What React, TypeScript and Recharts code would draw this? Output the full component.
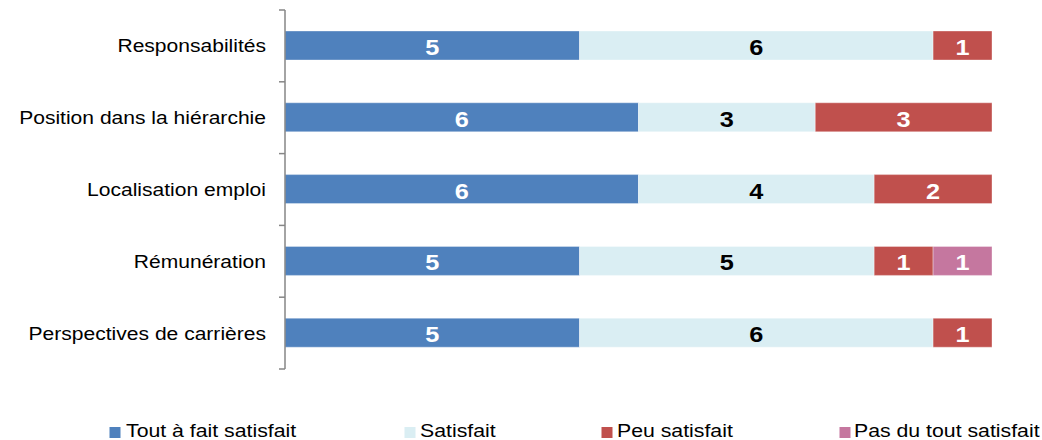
import React from 'react';
import { BarChart, Bar, XAxis, YAxis, Legend, LabelList } from 'recharts';

const categories = [
  'Responsabilités',
  'Position dans la hiérarchie',
  'Localisation emploi',
  'Rémunération',
  'Perspectives de carrières',
];
const toutAFait = [5, 6, 6, 5, 5];
const satisfait = [6, 3, 4, 5, 6];
const peu = [1, 3, 2, 1, 1];
const pasDuTout = [0, 0, 0, 1, 0];

const seriesNames = ['Tout à fait satisfait', 'Satisfait', 'Peu satisfait', 'Pas du tout satisfait'];
const seriesKeys = ['a', 'b', 'c', 'd'];
const seriesColors = ['#4F81BD', '#DAEEF3', '#C0504D', '#C5779F'];
const labelColors = ['#FFFFFF', '#000000', '#FFFFFF', '#FFFFFF'];

const data = categories.map((name, i) => ({
  name,
  a: toutAFait[i],
  b: satisfait[i],
  c: peu[i],
  d: pasDuTout[i],
}));

const FONT = '"Liberation Sans", Arial, sans-serif';
const AXIS_X = 285;
const STRETCH = 1.15;

const CategoryTick = (props: any) => {
  const { y, payload, index, visibleTicksCount } = props;
  const off = payload && typeof payload.offset === 'number' && payload.offset > 0 ? payload.offset : 35.9;
  const isLast = index === (visibleTicksCount ?? categories.length) - 1;
  return (
    <g>
      <line x1={AXIS_X - 6} x2={AXIS_X} y1={y - off} y2={y - off} stroke="#868686" strokeWidth={1.5} />
      {isLast && (
        <line x1={AXIS_X - 6} x2={AXIS_X} y1={y + off} y2={y + off} stroke="#868686" strokeWidth={1.5} />
      )}
      <g transform={`translate(${AXIS_X - 19},${y}) scale(${STRETCH},1)`}>
        <text x={0} y={0} dy="0.355em" textAnchor="end" fontSize={18.3} fontFamily={FONT} fill="#000">
          {payload.value}
        </text>
      </g>
    </g>
  );
};

const makeValueLabel = (color: string) => (props: any) => {
  const { x, y, width, height, value } = props;
  if (!value) return null;
  const cx = Number(x) + Number(width) / 2;
  const cy = Number(y) + Number(height) / 2;
  return (
    <g transform={`translate(${cx},${cy}) scale(${STRETCH},1)`}>
      <text x={0} y={0} dy="0.43em" textAnchor="middle" fontSize={22} fontWeight="bold" fontFamily={FONT} fill={color}>
        {value}
      </text>
    </g>
  );
};

const legendRectX = [109.5, 404.5, 601.5, 839.5];
const legendTextX = [126, 420, 617, 854];

const CustomLegend = () => (
  <svg width={1042} height={30} style={{ display: 'block' }}>
    {seriesNames.map((n, i) => (
      <g key={n}>
        <rect x={legendRectX[i]} y={17} width={11} height={11} fill={seriesColors[i]} />
        <g transform={`translate(${legendTextX[i]},26.6) scale(${STRETCH},1)`}>
          <text x={0} y={0} fontSize={18.5} fontFamily={FONT} fill="#000">
            {n}
          </text>
        </g>
      </g>
    ))}
  </svg>
);

export default function App() {
  return (
    <div style={{ position: 'absolute', left: 0, top: 0, width: 1042, height: 440, background: '#fff' }}>
      <BarChart
        layout="vertical"
        width={1042}
        height={440}
        data={data}
        margin={{ top: 10, right: 50, bottom: 71, left: 0 }}
      >
        <XAxis type="number" domain={[0, 12]} hide />
        <YAxis
          type="category"
          dataKey="name"
          width={285}
          axisLine={{ stroke: '#868686', strokeWidth: 1.5 }}
          tickLine={false}
          tick={<CategoryTick />}
          interval={0}
        />
        <Legend
          layout="horizontal"
          verticalAlign="middle"
          align="center"
          content={<CustomLegend />}
          wrapperStyle={{ left: 0, top: 410, width: 1042, height: 30 }}
        />
        {seriesKeys.map((k, i) => (
          <Bar
            key={k}
            dataKey={k}
            name={seriesNames[i]}
            stackId="s"
            fill={seriesColors[i]}
            stroke="#ffffff"
            strokeOpacity={0.35}
            strokeWidth={1}
            barSize={29}
            isAnimationActive={false}
          >
            <LabelList dataKey={k} content={makeValueLabel(labelColors[i])} />
          </Bar>
        ))}
      </BarChart>
    </div>
  );
}
